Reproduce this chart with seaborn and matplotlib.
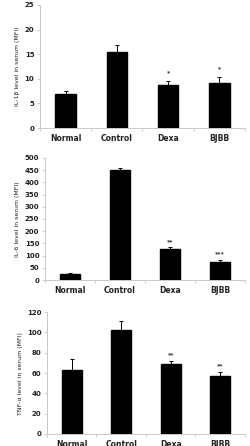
import matplotlib
matplotlib.use("Agg")
import matplotlib.pyplot as plt
import seaborn as sns
import numpy as np
import pandas as pd

sns.set_theme(style="white")
plt.rcParams['font.family'] = ['DejaVu Sans']

groups = ["Normal", "Control", "Dexa", "BJBB"]

il1b = [6.9, 15.4, 8.7, 9.1]
il1b_err = [0.7, 1.5, 0.9, 1.2]
il1b_sig = ["", "", "*", "*"]

il6 = [24, 450, 127, 75]
il6_err = [7, 9, 9, 9]
il6_sig = ["", "", "**", "***"]

tnf = [62.6, 102, 68.5, 57.4]
tnf_err = [11.7, 9, 3.2, 3.2]
tnf_sig = ["", "", "**", "**"]

panels = [
    (il1b, il1b_err, il1b_sig, "IL-1β level in serum (MFI)", 25, 5, [0.159, 0.713, 0.817, 0.276], 1.2),
    (il6, il6_err, il6_sig, "IL-6 level in serum (MFI)", 500, 50, [0.179, 0.372, 0.797, 0.274], 12),
    (tnf, tnf_err, tnf_sig, "TNF-α level in serum (MFI)", 120, 20, [0.187, 0.027, 0.789, 0.273], 4),
]

fig = plt.figure(figsize=(2.51, 4.46), dpi=100)
axis_col = "#c8c8c8"
for vals, errs, sig, ylabel, ymax, step, rect, off in panels:
    ax = fig.add_axes(rect)
    df = pd.DataFrame({"group": groups, "value": vals})
    sns.barplot(data=df, x="group", y="value", color="black", width=0.4,
                edgecolor="black", ax=ax, errorbar=None)
    x = np.arange(len(groups))
    ax.errorbar(x, vals, yerr=[np.zeros(len(vals)), errs], fmt="none",
                ecolor="black", elinewidth=0.7, capsize=1.5, capthick=0.7)
    for xi, v, e, s in zip(x, vals, errs, sig):
        if s:
            ax.text(xi, v + e + off, s, ha="center", va="bottom",
                    fontsize=4.5, fontweight="bold", color="#333333")
    ax.set_xlim(-0.5, 3.5)
    ax.set_ylim(0, ymax)
    ax.set_yticks(np.arange(0, ymax + step / 2, step))
    ax.set_xlabel("")
    ax.set_ylabel(ylabel, fontsize=4.5, color="#222222", labelpad=3)
    for sp in ["top", "right"]:
        ax.spines[sp].set_visible(False)
    for sp in ["left", "bottom"]:
        ax.spines[sp].set_color(axis_col)
        ax.spines[sp].set_linewidth(0.7)
    ax.tick_params(axis="y", which="major", left=True, length=2, width=0.6,
                   color=axis_col, labelsize=5, pad=2, labelcolor="#222222")
    ax.tick_params(axis="x", which="major", bottom=False, length=0, labelsize=5.5,
                   pad=4.5, labelcolor="#222222")
    ax.set_xticks([-0.5, 0.5, 1.5, 2.5, 3.5], minor=True)
    ax.tick_params(axis="x", which="minor", bottom=True, length=2,
                   width=0.6, color=axis_col)
    for lab in ax.get_xticklabels() + ax.get_yticklabels():
        lab.set_fontweight("bold")
    ax.set_facecolor("white")

fig.savefig("out.png", dpi=100, facecolor="white")
